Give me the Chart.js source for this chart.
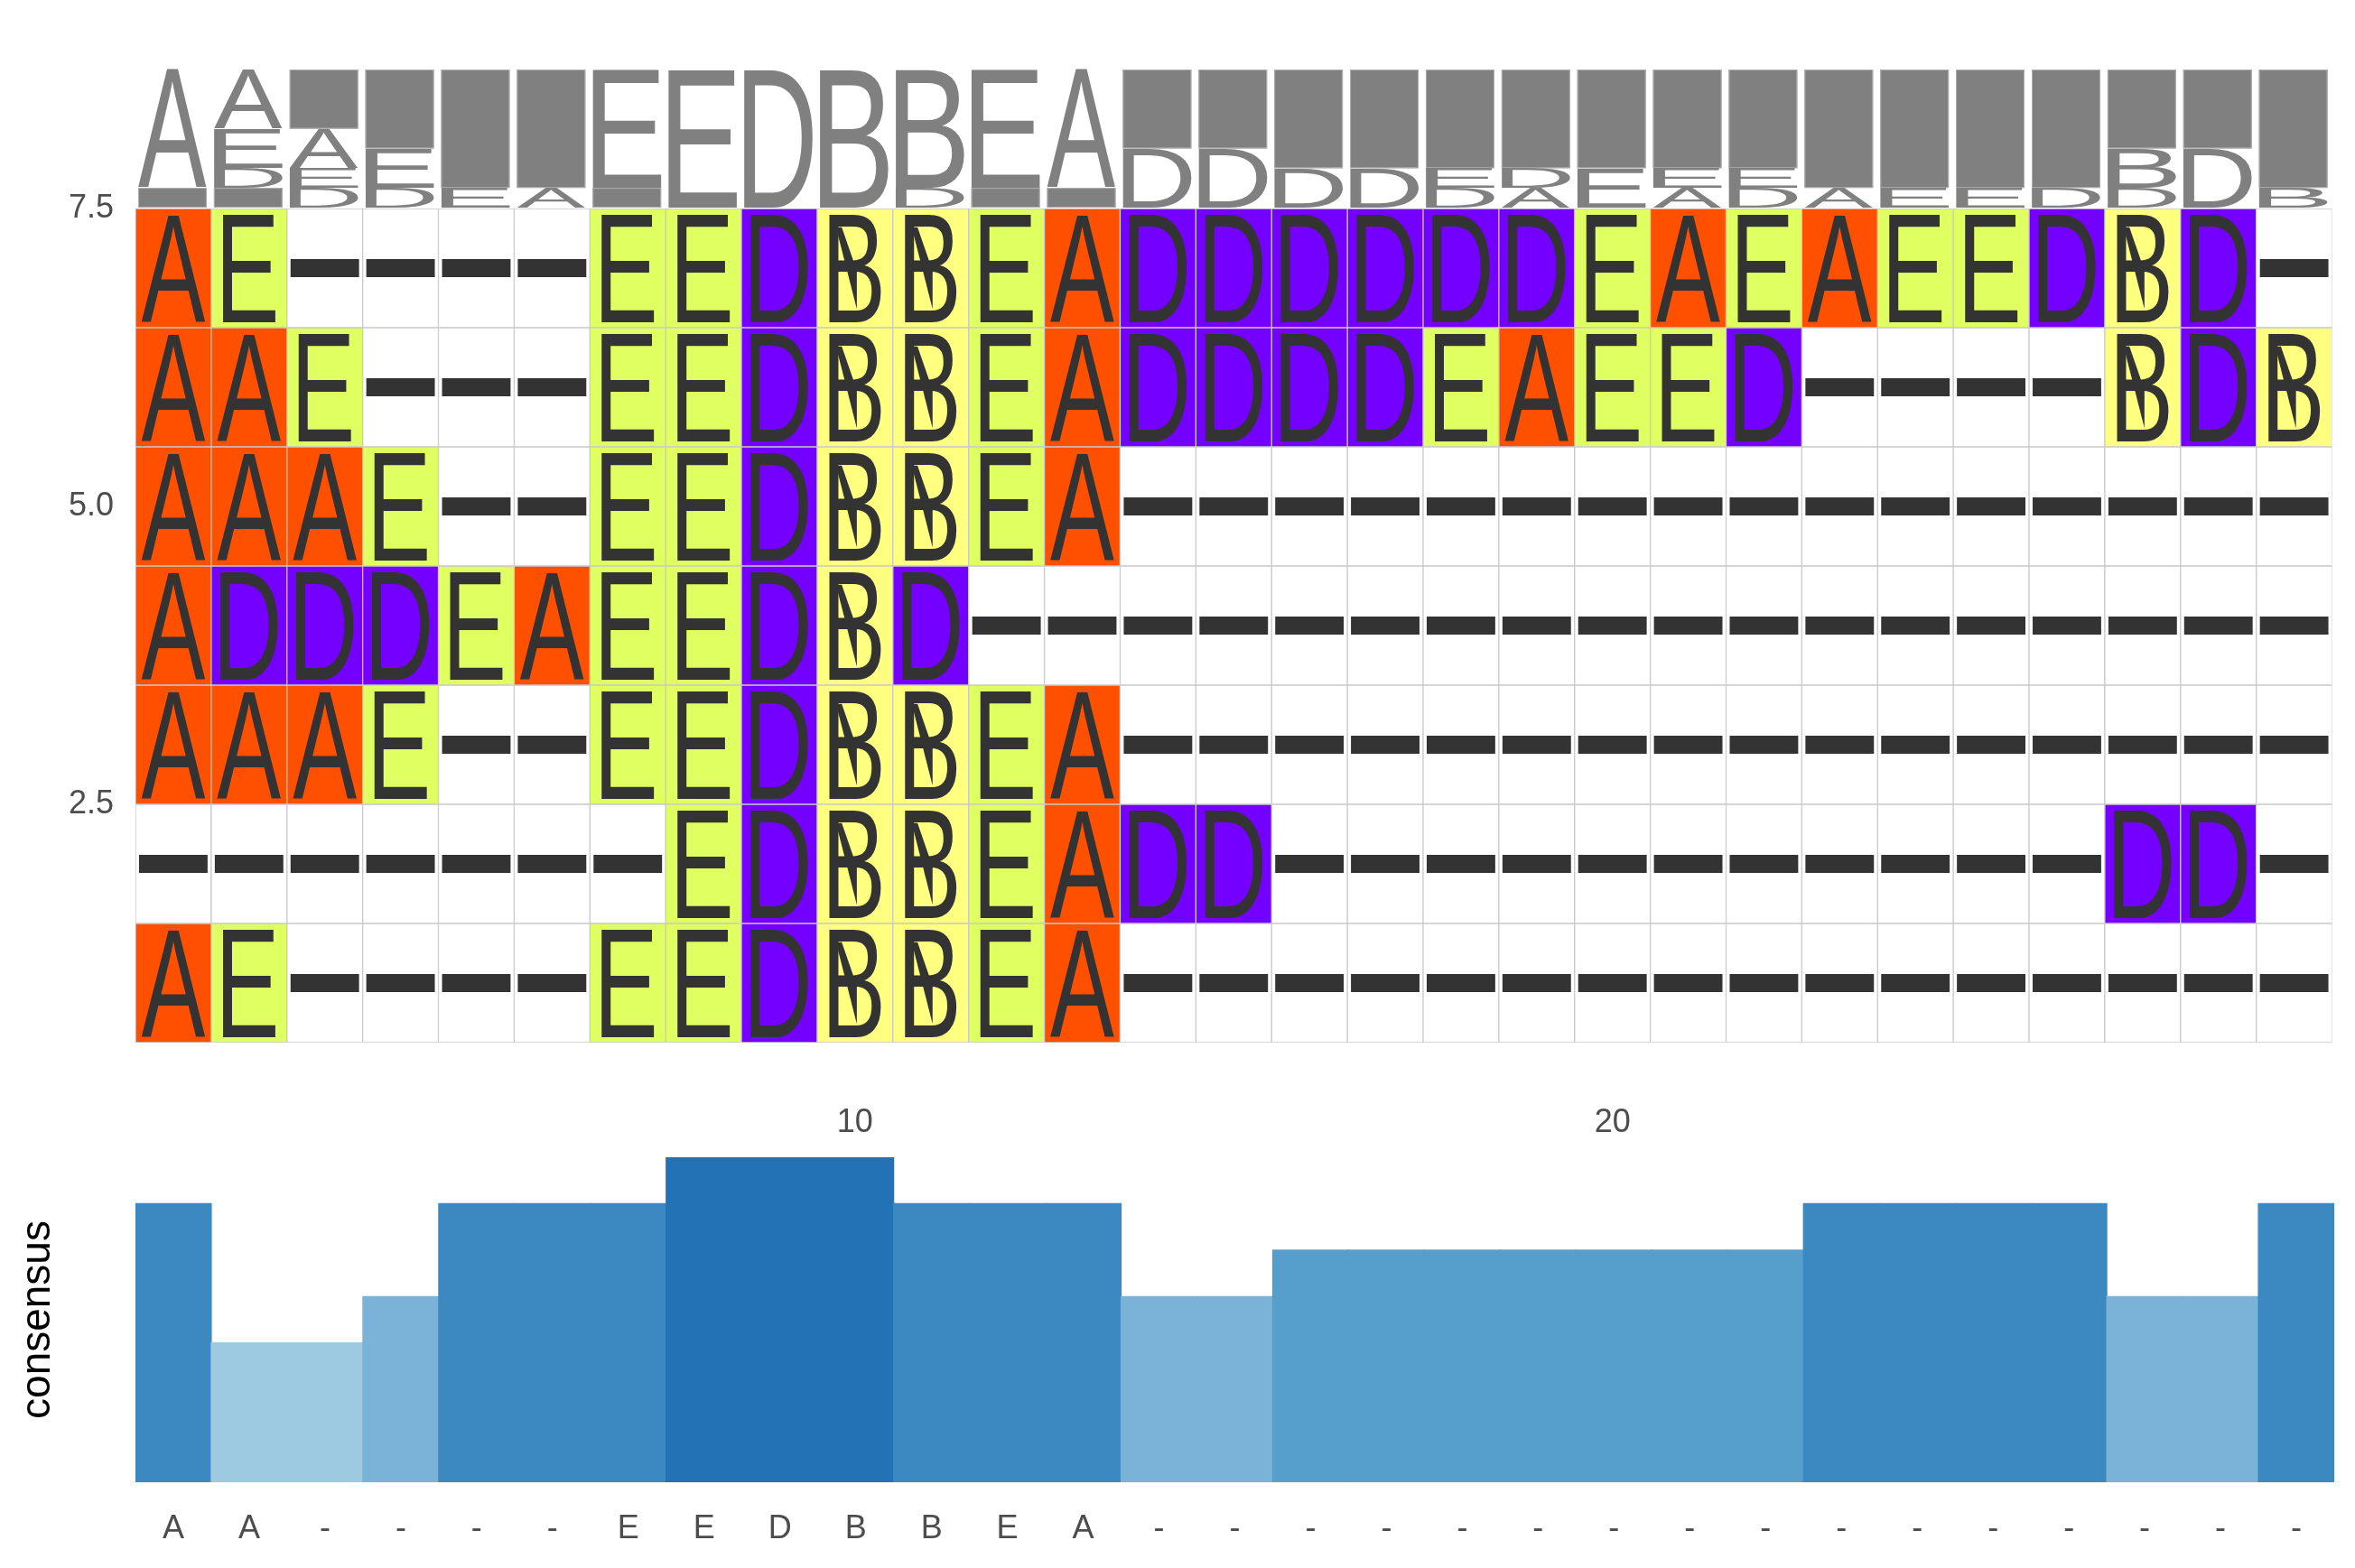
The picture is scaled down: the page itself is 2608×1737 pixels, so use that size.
<!DOCTYPE html>
<html>
<head>
<meta charset="utf-8">
<script src="https://cdn.jsdelivr.net/npm/chart.js@4.4.1/dist/chart.umd.min.js"></script>
<style>
  html, body { margin: 0; padding: 0; background: #ffffff; }
  #wrap { position: relative; width: 2608px; height: 1737px; background: #ffffff; }
  #msa { position: absolute; left: 0; top: 0; }
  #cons { position: absolute; left: 0; top: 1270px; }
</style>
</head>
<body>
<div id="wrap">
  <canvas id="msa" width="2608" height="1270"></canvas>
  <canvas id="cons" width="2608" height="467"></canvas>
</div>
<script>
// ---------------- DATA ----------------
const positions = ['1','2','3','4','5','6','7','8','9','10','11','12','13','14','15',
                   '16','17','18','19','20','21','22','23','24','25','26','27','28','29'];
// sequence rows, listed from top (y = 7) to bottom (y = 1)
const rowIds = [7, 6, 5, 4, 3, 2, 1];
const sequences = [
  'AE----EEDBBEADDDDDDEAEAEEDBD-',
  'AAE---EEDBBEADDDDEAEED----BDB',
  'AAAE--EEDBBEA----------------',
  'ADDDEAEEDBD------------------',
  'AAAE--EEDBBEA----------------',
  '-------EDBBEADD-----------DD-',
  'AE----EEDBBEA----------------'
];
const yTickValues = [2.5, 5.0, 7.5];
const xTickShown = ['10', '20'];
const consensusLetters = ['A','A','-','-','-','-','E','E','D','B','B','E','A','-','-',
                          '-','-','-','-','-','-','-','-','-','-','-','-','-','-'];
const consensusValues = [6,3,3,4,6,6,6,7,7,7,6,6,6,4,4,5,5,5,5,5,5,5,6,6,6,6,4,4,6];

// ---------------- STYLE ----------------
const residueColors = { A: '#FF5000', E: '#E0FF60', D: '#7400FF', B: '#FFFF80' };
const blueByValue = { 3: '#9ECAE1', 4: '#79B3D8', 5: '#569FCC', 6: '#3C89C1', 7: '#2272B5' };
const FONT = '"Liberation Sans", Arial, Helvetica, sans-serif';
const LOGO_TOP = 77;
const TICK_COLOR = '#4D4D4D';

function drawStretched(ctx, ch, rx, ry, rw, rh, color) {
  ctx.save();
  ctx.font = '200px ' + FONT;
  const m = ctx.measureText(ch);
  const inkW = m.actualBoundingBoxLeft + m.actualBoundingBoxRight;
  const inkH = m.actualBoundingBoxAscent + m.actualBoundingBoxDescent;
  ctx.translate(rx, ry);
  ctx.scale(rw / inkW, rh / inkH);
  ctx.textAlign = 'left';
  ctx.textBaseline = 'alphabetic';
  ctx.fillStyle = color;
  ctx.fillText(ch, m.actualBoundingBoxLeft, m.actualBoundingBoxAscent);
  ctx.restore();
}

function inkBox(ctx, ch) {
  ctx.save();
  ctx.font = '200px ' + FONT;
  const m = ctx.measureText(ch);
  ctx.restore();
  return { w: m.actualBoundingBoxLeft + m.actualBoundingBoxRight,
           h: m.actualBoundingBoxAscent + m.actualBoundingBoxDescent };
}

const msaGlyphs = {
  id: 'msaGlyphs',
  afterDatasetsDraw(chart) {
    const ctx = chart.ctx;
    // residues inside the cells
    chart.data.datasets.forEach((ds, di) => {
      const meta = chart.getDatasetMeta(di);
      meta.data.forEach((el, i) => {
        const ch = ds.residues[i];
        const top = Math.min(el.y, el.base), bot = Math.max(el.y, el.base);
        const left = el.x - el.width / 2, w = el.width, h = bot - top;
        if (ch === '-') {
          ctx.fillStyle = '#333333';
          ctx.fillRect(left + 4, (top + bot) / 2 - 10, w - 8, 20);
          return;
        }
        const ib = inkBox(ctx, ch);
        const rh = h - 13;
        const sy = rh / ib.h;
        const rw = ib.w * sy * 0.62;
        drawStretched(ctx, ch, el.x - rw / 2, top + 6.5, rw, rh, '#333333');
        if (ch === 'B') {
          // glyph artefact stroke seen in the reference
          ctx.save();
          ctx.fillStyle = '#333333';
          const sx = w / 84, syy = h / 132;
          ctx.beginPath();
          ctx.moveTo(left + 21.3 * sx, top + 20.7 * syy);
          ctx.lineTo(left + 27.3 * sx, top + 20.7 * syy);
          ctx.lineTo(left + 44.0 * sx, top + 69 * syy);
          ctx.lineTo(left + 44.0 * sx, top + 111.3 * syy);
          ctx.lineTo(left + 21.3 * sx, top + 22.3 * syy);
          ctx.closePath();
          ctx.fill();
          ctx.restore();
        }
      });
    });
    // sequence logo above the alignment
    const meta0 = chart.getDatasetMeta(0);
    const nSeq = sequences.length;
    const logoBottom = chart.chartArea.top - 1;
    const unit = (logoBottom - LOGO_TOP) / nSeq;
    positions.forEach((p, i) => {
      const el = meta0.data[i];
      const left = el.x - el.width / 2;
      const counts = {};
      sequences.forEach(s => { counts[s[i]] = (counts[s[i]] || 0) + 1; });
      const items = Object.keys(counts).map(ch => ({ ch, n: counts[ch] }));
      items.sort((a, b) => (b.n - a.n) || (a.ch < b.ch ? 1 : -1));
      let y = LOGO_TOP;
      items.forEach(it => {
        const hgt = it.n * unit;
        const rx = left + 3, rw = el.width - 8;
        if (it.ch === '-') {
          ctx.fillStyle = '#808080';
          ctx.fillRect(rx, y, rw, hgt);
          ctx.strokeStyle = '#B0B0B0';
          ctx.lineWidth = 1;
          ctx.strokeRect(rx + 0.5, y + 0.5, rw - 1, hgt - 1);
        } else {
          drawStretched(ctx, it.ch, rx, y, rw, hgt, '#808080');
        }
        y += hgt;
      });
    });
  }
};

// ---------------- CHART 1 : alignment ----------------
new Chart(document.getElementById('msa'), {
  type: 'bar',
  data: {
    labels: positions,
    datasets: sequences.map((seq, k) => {
      const y = rowIds[k];
      const chars = seq.split('');
      return {
        label: 'seq ' + y,
        data: chars.map(() => [y - 0.5, y + 0.5]),
        residues: chars,
        backgroundColor: chars.map(c => residueColors[c] || '#FFFFFF'),
        borderColor: '#C9C9C9',
        borderWidth: 1,
        borderSkipped: false,
        barPercentage: 1,
        categoryPercentage: 1,
        grouped: false
      };
    })
  },
  options: {
    responsive: false,
    animation: false,
    layout: { padding: { top: 231, right: 23, left: 0, bottom: 0 } },
    plugins: { legend: { display: false }, tooltip: { enabled: false } },
    scales: {
      x: {
        type: 'category',
        offset: true,
        grid: { display: false, drawTicks: false },
        border: { display: false },
        ticks: {
          autoSkip: false, maxRotation: 0, padding: 67,
          color: TICK_COLOR, font: { family: FONT, size: 36 },
          callback: function (v, i) { const l = positions[i]; return xTickShown.includes(l) ? l : ''; }
        },
        afterFit: s => { s.height = 115; }
      },
      y: {
        type: 'linear', min: 0.5, max: 7.5,
        grid: { display: false, drawTicks: false },
        border: { display: false },
        afterBuildTicks: s => { s.ticks = yTickValues.map(v => ({ value: v })); },
        ticks: {
          padding: 24, color: TICK_COLOR, font: { family: FONT, size: 36 },
          callback: v => Number(v).toFixed(1)
        },
        afterFit: s => { s.width = 150; }
      }
    }
  },
  plugins: [msaGlyphs]
});

// ---------------- CHART 2 : consensus ----------------
new Chart(document.getElementById('cons'), {
  type: 'bar',
  data: {
    labels: consensusLetters,
    datasets: [{
      label: 'consensus',
      data: consensusValues,
      backgroundColor: consensusValues.map(v => blueByValue[v]),
      borderWidth: 0,
      inflateAmount: 0.6,
      barPercentage: 1,
      categoryPercentage: 1
    }]
  },
  options: {
    responsive: false,
    animation: false,
    layout: { padding: { top: 12, right: 23, left: 0, bottom: 0 } },
    plugins: { legend: { display: false }, tooltip: { enabled: false } },
    scales: {
      x: {
        type: 'category',
        offset: true,
        grid: { display: false, drawTicks: false },
        border: { display: false },
        ticks: {
          autoSkip: false, maxRotation: 0, padding: 30,
          color: TICK_COLOR, font: { family: FONT, size: 36 }
        },
        afterFit: s => { s.height = 95; }
      },
      y: {
        type: 'linear', min: 0, max: 7,
        grid: { display: false, drawTicks: false },
        border: { display: false },
        ticks: { display: false },
        title: {
          display: true, text: 'consensus', color: '#000000',
          font: { family: FONT, size: 46 }, padding: { top: 15, bottom: 0 }
        },
        afterFit: s => { s.width = 150; }
      }
    }
  }
});
</script>
</body>
</html>
